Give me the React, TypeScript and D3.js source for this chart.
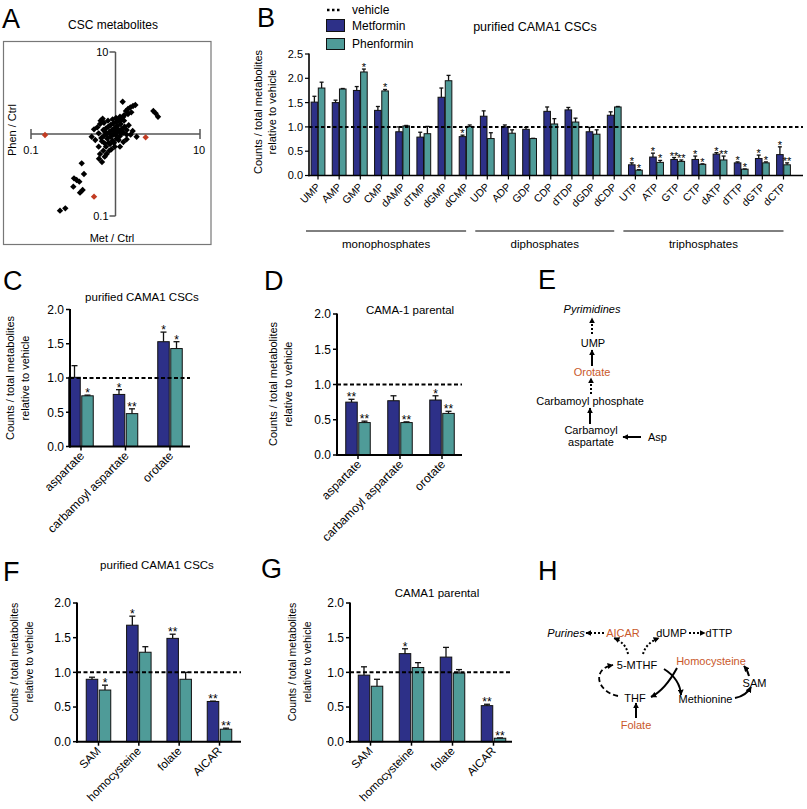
import React from "react";
import * as d3 from "d3";

const FONT = "'Liberation Sans', Arial, Helvetica, sans-serif";
const MET_COLOR = "#2d3088";
const PHEN_COLOR = "#4f9b98";
const ORANGE = "#c9582b";
const RED = "#c23b22";

// ---------- Panel A: log10 ratios (Met/Ctrl, Phen/Ctrl) ----------
const aMetLog = [0.085, 0.124, 0.148, 0.176, 0.207, 0.235, 0.187, 0.148, 0.101, 0.053, 0.006, 0.448, 0.475, 0.503,
  0.25, 0.179, 0.203, 0.132, -0.282, -0.254, -0.215, -0.176, -0.152, -0.239, -0.199, -0.183, -0.195, -0.144, -0.105,
  -0.112, -0.065, -0.018, 0.053, 0.093, 0.132, -0.144, -0.112, -0.085, -0.057, -0.026, 0.006, 0.037, 0.069, 0.101,
  0.061, 0.022, -0.01, -0.041, -0.073, -0.104, -0.136, -0.168, -0.097, -0.057, -0.026, 0.014, 0.045, 0.077, 0.108,
  0.156, 0.093, 0.053, 0.014, -0.034, -0.081, -0.128, -0.16, -0.199, -0.183, -0.136, -0.089, -0.034, 0.022, -0.018,
  -0.065, -0.12, 0.006, 0.037, -0.01, -0.049, -0.128, -0.16, -0.073, 0.132, 0.069, 0.093, -0.4, -0.373, -0.491,
  -0.46, -0.428, -0.499, -0.389, -0.42, -0.594, -0.657];
const aPhenLog = [0.394, 0.28, 0.305, 0.325, 0.341, 0.354, 0.264, 0.244, 0.228, 0.211, 0.195, 0.28, 0.252, 0.211,
  -0.033, -0.008, 0.037, 0.049, -0.033, 0.057, 0.081, 0.163, 0.187, -0.073, -0.154, -0.244, -0.301, -0.203, -0.244,
  -0.154, -0.122, -0.106, -0.154, -0.098, -0.065, 0.049, 0.069, 0.089, 0.11, 0.13, 0.146, 0.163, 0.171, 0.163,
  0.122, 0.098, 0.073, 0.049, 0.024, 0.0, -0.024, -0.049, -0.057, -0.033, -0.008, 0.016, 0.041, 0.065, 0.089,
  0.106, 0.016, -0.024, -0.057, -0.081, -0.106, -0.114, -0.089, 0.008, 0.122, 0.138, 0.163, 0.179, 0.065, 0.033,
  0.0, 0.024, -0.016, -0.073, -0.154, -0.187, -0.276, -0.341, -0.203, -0.008, 0.008, 0.211, -0.358, -0.488, -0.541,
  -0.561, -0.581, -0.642, -0.683, -0.715, -0.907, -0.935];
const aRedMetLog = [-0.834, 0.357, -0.254];
const aRedPhenLog = [-0.012, -0.041, -0.764];

// ---------- Panel B ----------
const bCategories = ["UMP", "AMP", "GMP", "CMP", "dAMP", "dTMP", "dGMP", "dCMP",
  "UDP", "ADP", "GDP", "CDP", "dTDP", "dGDP", "dCDP",
  "UTP", "ATP", "GTP", "CTP", "dATP", "dTTP", "dGTP", "dCTP"];
const bMet = [1.51, 1.5, 1.75, 1.34, 0.9, 0.79, 1.61, 0.8, 1.22, 1.0, 0.95, 1.32, 1.35, 0.9, 1.24,
  0.22, 0.38, 0.33, 0.33, 0.44, 0.26, 0.35, 0.43];
const bMetErr = [0.12, 0.05, 0.08, 0.08, 0.1, 0.1, 0.19, 0.03, 0.11, 0.04, 0.04, 0.09, 0.05, 0.09, 0.07,
  0.04, 0.08, 0.04, 0.07, 0.03, 0.02, 0.07, 0.16];
const bPhen = [1.8, 1.78, 2.13, 1.74, 1.02, 0.86, 1.95, 1.01, 0.76, 0.87, 0.76, 1.06, 1.1, 0.85, 1.41,
  0.11, 0.27, 0.29, 0.23, 0.32, 0.13, 0.26, 0.22];
const bPhenErr = [0.12, 0.01, 0.06, 0.03, 0.01, 0.15, 0.11, 0.03, 0.12, 0.07, 0.005, 0.11, 0.08, 0.09, 0.01,
  0.01, 0.04, 0.03, 0.01, 0.08, 0.005, 0.02, 0.04];
const bMetStars = ["", "", "", "", "", "", "", "*", "", "", "", "", "", "", "",
  "*", "*", "**", "*", "*", "*", "*", "*"];
const bPhenStars = ["", "", "*", "*", "", "", "", "", "", "", "", "", "", "", "",
  "*", "*", "**", "*", "**", "*", "*", "**"];
const bTicks = [0, 0.5, 1, 1.5, 2, 2.5];
const bGroupNames = ["monophosphates", "diphosphates", "triphosphates"];
const bGroupFirst = ["UMP", "UDP", "UTP"];
const bGroupLast = ["dCMP", "dCDP", "dCTP"];

// ---------- Panels C & D ----------
const cdCategories = ["aspartate", "carbamoyl aspartate", "orotate"];
const cMet = [1.01, 0.76, 1.53];
const cMetErr = [0.17, 0.07, 0.14];
const cPhen = [0.74, 0.48, 1.43];
const cPhenErr = [0.01, 0.07, 0.1];
const cMetStars = ["", "*", "*"];
const cPhenStars = ["*", "**", "*"];
const dMet = [0.75, 0.77, 0.78];
const dMetErr = [0.04, 0.07, 0.06];
const dPhen = [0.46, 0.46, 0.59];
const dPhenErr = [0.02, 0.01, 0.03];
const dMetStars = ["**", "", "*"];
const dPhenStars = ["**", "**", "**"];
const smallTicks = [0, 0.5, 1, 1.5, 2];

// ---------- Panels F & G ----------
const fgCategories = ["SAM", "homocysteine", "folate", "AICAR"];
const fMet = [0.9, 1.68, 1.49, 0.58];
const fMetErr = [0.03, 0.13, 0.06, 0.005];
const fPhen = [0.745, 1.29, 0.9, 0.18];
const fPhenErr = [0.07, 0.08, 0.1, 0.015];
const fMetStars = ["", "*", "**", "**"];
const fPhenStars = ["*", "", "", "**"];
const gMet = [0.96, 1.27, 1.22, 0.52];
const gMetErr = [0.12, 0.07, 0.14, 0.02];
const gPhen = [0.8, 1.07, 0.99, 0.05];
const gPhenErr = [0.1, 0.07, 0.05, 0.005];
const gMetStars = ["", "*", "", "**"];
const gPhenStars = ["", "", "", "**"];

type BarProps = {
  cats: string[]; met: number[]; metErr: number[]; phen: number[]; phenErr: number[];
  metStars: string[]; phenStars: string[]; ticks: number[];
  x0: number; x1: number; first: number; last: number;
  yZero: number; yTopPx: number; yMax: number;
  barW: number; gap: number; capW: number;
  labelSize: number; labelDx: number; labelDy: number;
  title?: string; titleX?: number; titleY?: number; titleSize?: number;
  ylabX: number; ylabY: number; ylabGap: number; ylabSize: number;
  dash: string; starSize: number; axisW: number; tickSize: number;
};

function BarPanel(p: BarProps) {
  const x = d3.scalePoint<string>().domain(p.cats).range([p.first, p.last]);
  const y = d3.scaleLinear().domain([0, p.yMax]).range([p.yZero, p.yTopPx]);
  const fmt = d3.format(".1f");
  return (
    <g>
      {p.title && (
        <text x={p.titleX} y={p.titleY} fontSize={p.titleSize} textAnchor="middle">{p.title}</text>
      )}
      <g transform={`translate(${p.ylabX},${p.ylabY}) rotate(-90)`} fontSize={p.ylabSize} textAnchor="middle">
        <text x={0} y={0}>Counts / total metabolites</text>
        <text x={0} y={p.ylabGap}>relative to vehicle</text>
      </g>
      {p.cats.map((c, i) => {
        const cx = x(c)!;
        const mx = cx - p.gap / 2 - p.barW;
        const px = cx + p.gap / 2;
        const mTop = y(p.met[i] + p.metErr[i]);
        const pTop = y(p.phen[i] + p.phenErr[i]);
        return (
          <g key={c}>
            <rect x={mx} y={y(p.met[i])} width={p.barW} height={p.yZero - y(p.met[i])}
              fill={MET_COLOR} stroke="#111" strokeWidth={1} />
            <rect x={px} y={y(p.phen[i])} width={p.barW} height={p.yZero - y(p.phen[i])}
              fill={PHEN_COLOR} stroke="#111" strokeWidth={1} />
            <g stroke="#111" strokeWidth={1.3}>
              <line x1={mx + p.barW / 2} x2={mx + p.barW / 2} y1={y(p.met[i])} y2={mTop} />
              <line x1={mx + p.barW / 2 - p.capW / 2} x2={mx + p.barW / 2 + p.capW / 2} y1={mTop} y2={mTop} />
              <line x1={px + p.barW / 2} x2={px + p.barW / 2} y1={y(p.phen[i])} y2={pTop} />
              <line x1={px + p.barW / 2 - p.capW / 2} x2={px + p.barW / 2 + p.capW / 2} y1={pTop} y2={pTop} />
            </g>
            {p.metStars[i] && (
              <text x={mx + p.barW / 2} y={mTop + 2} fontSize={p.starSize} textAnchor="middle" fill="#000">{p.metStars[i]}</text>
            )}
            {p.phenStars[i] && (
              <text x={px + p.barW / 2} y={pTop + 2} fontSize={p.starSize} textAnchor="middle" fill="#000">{p.phenStars[i]}</text>
            )}
            <line x1={cx} x2={cx} y1={p.yZero} y2={p.yZero + 4} stroke="#000" strokeWidth={p.axisW * 0.75} />
            <text transform={`translate(${cx + p.labelDx},${p.yZero + p.labelDy}) rotate(-45)`}
              fontSize={p.labelSize} textAnchor="end">{c}</text>
          </g>
        );
      })}
      <line x1={p.x0} x2={p.x1} y1={y(1)} y2={y(1)} stroke="#000" strokeWidth={2} strokeDasharray={p.dash} />
      <line x1={p.x0} x2={p.x0} y1={p.yZero + p.axisW / 2} y2={p.yTopPx - 0.5} stroke="#000" strokeWidth={p.axisW} />
      <line x1={p.x0 - p.axisW / 2} x2={p.x1} y1={p.yZero} y2={p.yZero} stroke="#000" strokeWidth={p.axisW} />
      {p.ticks.map((t) => (
        <g key={t}>
          <line x1={p.x0 - 4} x2={p.x0} y1={y(t)} y2={y(t)} stroke="#000" strokeWidth={p.axisW * 0.75} />
          <text x={p.x0 - 6} y={y(t) + p.tickSize * 0.36} fontSize={p.tickSize} textAnchor="end">{fmt(t)}</text>
        </g>
      ))}
    </g>
  );
}

function PanelA() {
  const x = d3.scaleLog().domain([0.1, 10]).range([31, 200]);
  const y = d3.scaleLog().domain([0.1, 10]).range([216, 52]);
  const symType = (d3 as any).symbolDiamond2 || d3.symbolDiamond;
  const sym = d3.symbol().type(symType).size(26)() || "";
  const cx = x(1);
  const cy = y(1);
  return (
    <g>
      <text x={2} y={28} fontSize={27}>A</text>
      <text x={113} y={29} fontSize={12} textAnchor="middle">CSC metabolites</text>
      <rect x={3.5} y={41.5} width={207.5} height={203} fill="none" stroke="#777" strokeWidth={1.2} />
      <g stroke="#555" strokeWidth={1.5}>
        <line x1={x(0.1)} x2={x(10)} y1={cy} y2={cy} />
        <line x1={cx} x2={cx} y1={y(10)} y2={y(0.1)} />
        <line x1={x(0.1)} x2={x(0.1)} y1={cy - 5} y2={cy + 5} />
        <line x1={x(10)} x2={x(10)} y1={cy - 5} y2={cy + 5} />
        <line x1={cx - 6} x2={cx} y1={y(10)} y2={y(10)} />
        <line x1={cx - 6} x2={cx} y1={y(0.1)} y2={y(0.1)} />
      </g>
      <g fontSize={11}>
        <text x={cx - 7} y={y(10) + 4} textAnchor="end">10</text>
        <text x={cx - 7} y={y(0.1) + 4} textAnchor="end">0.1</text>
        <text x={x(0.1)} y={cy + 20} textAnchor="middle">0.1</text>
        <text x={x(10) - 1} y={cy + 20} textAnchor="middle">10</text>
        <text x={112} y={242} textAnchor="middle">Met / Ctrl</text>
        <text transform={`translate(16,130) rotate(-90)`} textAnchor="middle">Phen / Ctrl</text>
      </g>
      {aMetLog.map((m, i) => (
        <path key={i} d={sym} fill="#000"
          transform={`translate(${x(Math.pow(10, m))},${y(Math.pow(10, aPhenLog[i]))})`} />
      ))}
      {aRedMetLog.map((m, i) => (
        <path key={"r" + i} d={sym} fill={RED}
          transform={`translate(${x(Math.pow(10, m))},${y(Math.pow(10, aRedPhenLog[i]))})`} />
      ))}
    </g>
  );
}

function PanelB() {
  const x = d3.scalePoint<string>().domain(bCategories).range([318, 783.5]);
  return (
    <g>
      <text x={257} y={27} fontSize={27}>B</text>
      <line x1={327} x2={342} y1={10} y2={10} stroke="#000" strokeWidth={2.5} strokeDasharray="2.5,2.5" />
      <text x={352} y={14} fontSize={12}>vehicle</text>
      <rect x={326.5} y={19.5} width={18} height={12} fill={MET_COLOR} stroke="#111" />
      <text x={352} y={30} fontSize={12}>Metformin</text>
      <rect x={326.5} y={38.5} width={18} height={11} fill={PHEN_COLOR} stroke="#111" />
      <text x={352} y={48} fontSize={12}>Phenformin</text>
      <text x={535} y={31} fontSize={12.5} textAnchor="middle">purified CAMA1 CSCs</text>
      <BarPanel cats={bCategories} met={bMet} metErr={bMetErr} phen={bPhen} phenErr={bPhenErr}
        metStars={bMetStars} phenStars={bPhenStars} ticks={bTicks}
        x0={309} x1={803} first={318} last={783.5} yZero={175.5} yTopPx={54} yMax={2.5}
        barW={6.6} gap={0.6} capW={4} labelSize={10.5} labelDx={3} labelDy={12}
        ylabX={262} ylabY={112} ylabGap={14} ylabSize={11} dash="3.5,2.5" starSize={11} axisW={1.6} tickSize={11} />
      {bGroupNames.map((g, i) => {
        const a = x(bGroupFirst[i])! - 12;
        const b = x(bGroupLast[i])!;
        return (
          <g key={g}>
            <line x1={a} x2={b} y1={231} y2={231} stroke="#000" strokeWidth={1} />
            <text x={(a + b) / 2} y={248} fontSize={11.5} textAnchor="middle">{g}</text>
          </g>
        );
      })}
    </g>
  );
}

function PanelE() {
  const solid = { stroke: "#000", strokeWidth: 2, markerEnd: "url(#ah)" } as any;
  const dotted = { stroke: "#000", strokeWidth: 2, strokeDasharray: "2,2", markerEnd: "url(#ah)" } as any;
  return (
    <g fontSize={11}>
      <text x={538} y={289} fontSize={27}>E</text>
      <text x={592} y={313} textAnchor="middle" fontStyle="italic">Pyrimidines</text>
      <line x1={592} y1={334} x2={592} y2={318} {...dotted} />
      <text x={593} y={347} textAnchor="middle">UMP</text>
      <line x1={592} y1={366} x2={592} y2={350} {...solid} />
      <text x={592} y={376} textAnchor="middle" fill={ORANGE}>Orotate</text>
      <line x1={591} y1={394} x2={591} y2={378} {...dotted} />
      <text x={590} y={405} textAnchor="middle">Carbamoyl phosphate</text>
      <line x1={590} y1={424} x2={590} y2={408} {...solid} />
      <text x={591} y={434} textAnchor="middle">Carbamoyl</text>
      <text x={591} y={446} textAnchor="middle">aspartate</text>
      <line x1={641} y1={437} x2={623} y2={437} {...solid} />
      <text x={648} y={441}>Asp</text>
    </g>
  );
}

function PanelH() {
  const solid = { stroke: "#000", strokeWidth: 2, fill: "none", markerEnd: "url(#ah)" } as any;
  const dotted = { stroke: "#000", strokeWidth: 2, fill: "none", strokeDasharray: "2,2", markerEnd: "url(#ah)" } as any;
  const dashed = { stroke: "#000", strokeWidth: 1.8, fill: "none", strokeDasharray: "5,3", markerEnd: "url(#ah)" } as any;
  return (
    <g fontSize={11}>
      <text x={538} y={580} fontSize={27}>H</text>
      <text x={566} y={637} textAnchor="middle" fontStyle="italic">Purines</text>
      <line x1={604} y1={633} x2={586} y2={633} {...dotted} />
      <text x={623} y={637} textAnchor="middle" fill={ORANGE}>AICAR</text>
      <text x={671.5} y={637} textAnchor="middle">dUMP</text>
      <line x1={689} y1={633} x2={705} y2={633} {...dotted} />
      <text x={719} y={637} textAnchor="middle">dTTP</text>
      <path d="M628,654 Q626,643 614,638" {...dotted} />
      <path d="M643,654 Q646,643 659,638" {...dotted} />
      <text x={637} y={669} textAnchor="middle">5-MTHF</text>
      <text x={711} y={665} textAnchor="middle" fill={ORANGE}>Homocysteine</text>
      <text x={754.5} y={687} textAnchor="middle">SAM</text>
      <path d="M749,676 Q748,671 744,666" {...solid} />
      <text x={705.5} y={703} textAnchor="middle">Methionine</text>
      <path d="M735,698 Q746,696 751,687" {...solid} />
      <text x={635} y={702} textAnchor="middle">THF</text>
      <path d="M618,696 C597,692 591,669 613,665" {...dashed} />
      <path d="M664,669 Q680,679 681,695" {...solid} />
      <path d="M677,668 Q665,690 651,697" {...solid} />
      <text x={636} y={729} textAnchor="middle" fill={ORANGE}>Folate</text>
      <line x1={636} y1={718} x2={636} y2={703} {...solid} />
    </g>
  );
}

export default function App() {
  return (
    <svg width={807} height={809} fontFamily={FONT}
      style={{ position: "absolute", left: 0, top: 0, background: "#fff" }}>
      <defs>
        <marker id="ah" viewBox="0 0 10 10" refX="9" refY="5" markerWidth="6" markerHeight="6"
          markerUnits="userSpaceOnUse" orient="auto">
          <path d="M0,0L10,5L0,10Z" fill="#000" />
        </marker>
      </defs>
      <rect x={0} y={0} width={807} height={809} fill="#fff" />
      <PanelA />
      <PanelB />
      <text x={3} y={290} fontSize={27}>C</text>
      <BarPanel cats={cdCategories} met={cMet} metErr={cMetErr} phen={cPhen} phenErr={cPhenErr}
        metStars={cMetStars} phenStars={cPhenStars} ticks={smallTicks}
        x0={70} x1={190} first={81} last={170} yZero={446.5} yTopPx={309.5} yMax={2}
        barW={11.5} gap={1.5} capW={6} labelSize={12} labelDx={4} labelDy={10}
        title="purified CAMA1 CSCs" titleX={142} titleY={301} titleSize={11.5}
        ylabX={14} ylabY={378} ylabGap={15} ylabSize={11} dash="4,2.5" starSize={12} axisW={2} tickSize={12} />
      <text x={264} y={290} fontSize={27}>D</text>
      <BarPanel cats={cdCategories} met={dMet} metErr={dMetErr} phen={dPhen} phenErr={dPhenErr}
        metStars={dMetStars} phenStars={dPhenStars} ticks={smallTicks}
        x0={337} x1={462} first={358} last={442} yZero={455} yTopPx={314} yMax={2}
        barW={11.5} gap={1.5} capW={6} labelSize={12} labelDx={4} labelDy={10}
        title="CAMA-1 parental" titleX={410} titleY={314} titleSize={11.5}
        ylabX={277} ylabY={384} ylabGap={15} ylabSize={11} dash="4,2.5" starSize={12} axisW={2} tickSize={12} />
      <PanelE />
      <text x={3} y={581} fontSize={27}>F</text>
      <BarPanel cats={fgCategories} met={fMet} metErr={fMetErr} phen={fPhen} phenErr={fPhenErr}
        metStars={fMetStars} phenStars={fPhenStars} ticks={smallTicks}
        x0={77} x1={241} first={98.5} last={219.5} yZero={741.7} yTopPx={603} yMax={2}
        barW={11.5} gap={1.5} capW={6} labelSize={11.5} labelDx={3} labelDy={10}
        title="purified CAMA1 CSCs" titleX={157} titleY={569} titleSize={11.5}
        ylabX={18} ylabY={662} ylabGap={15} ylabSize={10.5} dash="4,2.5" starSize={12} axisW={2} tickSize={12} />
      <text x={261} y={578} fontSize={27}>G</text>
      <BarPanel cats={fgCategories} met={gMet} metErr={gMetErr} phen={gPhen} phenErr={gPhenErr}
        metStars={gMetStars} phenStars={gPhenStars} ticks={smallTicks}
        x0={350} x1={512} first={370.5} last={493.5} yZero={741.7} yTopPx={603} yMax={2}
        barW={11.5} gap={1.5} capW={6} labelSize={11.5} labelDx={3} labelDy={10}
        title="CAMA1 parental" titleX={437} titleY={597} titleSize={11.5}
        ylabX={296} ylabY={662} ylabGap={15} ylabSize={10.5} dash="4,2.5" starSize={12} axisW={2} tickSize={12} />
      <PanelH />
    </svg>
  );
}
